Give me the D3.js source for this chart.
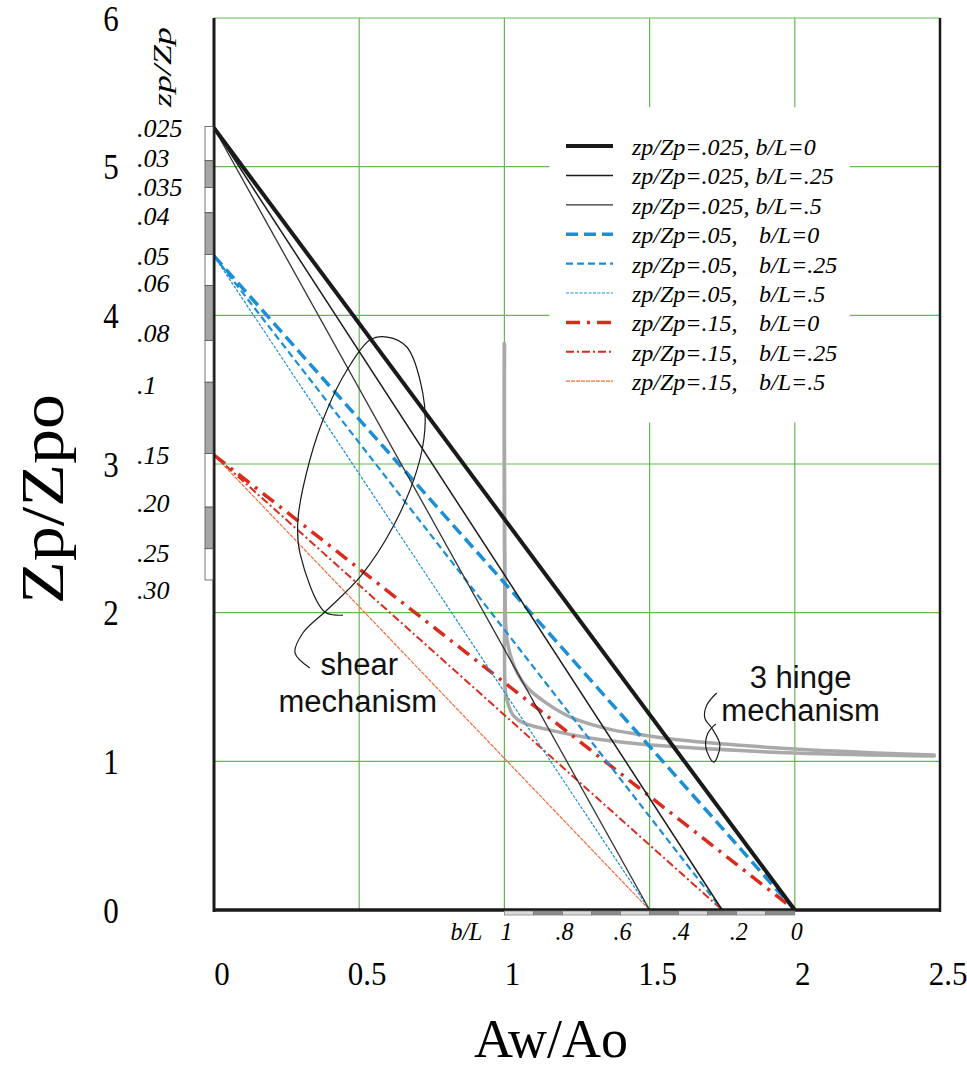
<!DOCTYPE html>
<html>
<head>
<meta charset="utf-8">
<script src="https://cdn.jsdelivr.net/npm/d3@7/dist/d3.min.js"></script>
<style>
  body { margin: 0; background: #fff; }
  svg { display: block; }
</style>
</head>
<body>
<div id="chart"></div>
<script>
// ---- data ----
var xTicks = [0, 0.5, 1, 1.5, 2, 2.5];
var xTickLabels = ["0", "0.5", "1", "1.5", "2", "2.5"];
var yTicks = [0, 1, 2, 3, 4, 5, 6];

// intercept on the Zp/Zpo axis for each zp/Zp level
var zpLevels = [".025", ".05", ".15"];
var zpIntercepts = [5.26, 4.40, 3.06];
// b/L values and where the lines reach Zp/Zpo = 0
var bLevels = ["0", ".25", ".5"];
var bEnds = [2.0, 1.75, 1.5];

// 3 hinge mechanism curves
var hingeUpper = [[1.0, 3.81], [1.002, 2.2], [1.009, 1.82], [1.036, 1.63], [1.077, 1.50], [1.146, 1.39],
                  [1.236, 1.29], [1.353, 1.22], [1.466, 1.18], [1.604, 1.143], [2.0, 1.083], [2.48, 1.042]];
var hingeLower = [[1.0, 3.81], [1.001, 2.2], [1.003, 1.48], [1.009, 1.41], [1.03, 1.31], [1.064, 1.26],
                  [1.157, 1.21], [1.294, 1.157], [1.466, 1.116], [1.604, 1.096], [2.0, 1.056], [2.48, 1.036]];

// zp/Zp scale on the left (Zp/Zpo positions of the band edges and labels)
var zpBandEdges = [5.27, 5.04, 4.86, 4.69, 4.41, 4.20, 3.83, 3.55, 3.07, 2.71, 2.43, 2.22];
var zpBandLabels = [".025", ".03", ".035", ".04", ".05", ".06", ".08", ".1", ".15", ".20", ".25", ".30"];
var zpLabelPos = [5.26, 5.06, 4.86, 4.67, 4.40, 4.22, 3.88, 3.53, 3.06, 2.74, 2.40, 2.15];

// b/L scale under the x axis
var bLEdges = [1, 0.9, 0.8, 0.7, 0.6, 0.5, 0.4, 0.3, 0.2, 0.1, 0];
var bLTicks = [1, 0.8, 0.6, 0.4, 0.2, 0];
var bLTickLabels = ["1", ".8", ".6", ".4", ".2", "0"];

// hand drawn annotation loops (data units)
var shearLoop = [[0.444, 1.984], [0.382, 2.004], [0.296, 2.401], [0.289, 2.623], [0.330, 3.027], [0.389, 3.363],
                 [0.458, 3.632], [0.537, 3.834], [0.596, 3.854], [0.664, 3.787], [0.719, 3.477], [0.726, 3.229],
                 [0.699, 2.960], [0.616, 2.576], [0.503, 2.240], [0.389, 2.018], [0.306, 1.863], [0.279, 1.729],
                 [0.330, 1.628]];
var hingeLoop = [[1.731, 1.460], [1.697, 1.379], [1.690, 1.291], [1.714, 1.224], [1.742, 1.110], [1.721, 0.995],
                 [1.694, 1.090], [1.701, 1.191], [1.728, 1.251]];

// ---- styles ----
var blue = "#1a8fd8", red = "#d92b1e", orange = "#f36c3b", green = "#62bb4c", gray = "#a9a9a9";
var serif = "'Liberation Serif', 'Times New Roman', serif";
var sans = "'Liberation Sans', Arial, sans-serif";

var series = [
    { zp: 0, b: 0, color: "#1a1a1a", w: 4,   dash: null },
    { zp: 0, b: 1, color: "#1a1a1a", w: 1.5, dash: null },
    { zp: 0, b: 2, color: "#333333", w: 1.3, dash: null },
    { zp: 1, b: 0, color: blue,      w: 3.5, dash: "12,6" },
    { zp: 1, b: 1, color: blue,      w: 2.2, dash: "7,4" },
    { zp: 1, b: 2, color: blue,      w: 1.2, dash: "3,1.5" },
    { zp: 2, b: 0, color: red,       w: 3.5, dash: "14,7,3,7" },
    { zp: 2, b: 1, color: red,       w: 2,   dash: "8,3,2,3" },
    { zp: 2, b: 2, color: orange,    w: 1.2, dash: "4,1" }
];

var width = 967, height = 1071;
var margin = { top: 18, right: 27, bottom: 161, left: 214 };

var svg = d3.select("#chart").append("svg")
    .attr("width", width)
    .attr("height", height);

svg.append("rect").attr("width", width).attr("height", height).attr("fill", "#fff");

var x = d3.scaleLinear().domain([0, 2.5]).range([margin.left, width - margin.right]);
var y = d3.scaleLinear().domain([0, 6]).range([height - margin.bottom, margin.top]);
// b/L runs backwards along Aw/Ao from 1 to 2
var bx = d3.scaleLinear().domain([1, 0]).range([x(1), x(2)]);

// (slightly) stretched serif text like the original figure
function tallText(sel, tx, ty, str, size, k, anchor, italic) {
    return sel.append("text")
        .attr("transform", "translate(" + tx + "," + ty + ") scale(1," + k + ")")
        .attr("y", size * 0.33)
        .style("font-family", serif)
        .style("font-size", size + "px")
        .style("font-style", italic ? "italic" : "normal")
        .style("text-anchor", anchor || "middle")
        .text(str);
}

// grid
svg.selectAll(".hgrid")
    .data(yTicks.filter(function(d) { return d > 0; }))
    .enter().append("line")
    .attr("class", "hgrid")
    .attr("x1", x(0)).attr("x2", x(2.5))
    .attr("y1", function(d) { return y(d); })
    .attr("y2", function(d) { return y(d); })
    .attr("stroke", green).attr("stroke-width", 1.2);

svg.selectAll(".vgrid")
    .data(xTicks.filter(function(d) { return d > 0 && d < 2.5; }))
    .enter().append("line")
    .attr("class", "vgrid")
    .attr("x1", function(d) { return x(d); })
    .attr("x2", function(d) { return x(d); })
    .attr("y1", y(6)).attr("y2", y(0))
    .attr("stroke", green).attr("stroke-width", 1.2);

// legend background hides the grid
var legendBox = { x0: 1.155, x1: 2.19, y0: 5.4, y1: 3.28 };
svg.append("rect")
    .attr("x", x(legendBox.x0)).attr("y", y(legendBox.y0))
    .attr("width", x(legendBox.x1) - x(legendBox.x0))
    .attr("height", y(legendBox.y1) - y(legendBox.y0))
    .attr("fill", "#fff");

// 3 hinge curves
var curve = d3.line()
    .x(function(d) { return x(d[0]); })
    .y(function(d) { return y(d[1]); })
    .curve(d3.curveCatmullRom.alpha(0.5));

[hingeLower, hingeUpper].forEach(function(c) {
    svg.append("path")
        .attr("d", curve(c))
        .attr("fill", "none")
        .attr("stroke", gray)
        .attr("stroke-width", 3.5)
        .attr("stroke-linecap", "round");
});

// straight mechanism lines
var straight = d3.line()
    .x(function(d) { return x(d[0]); })
    .y(function(d) { return y(d[1]); });

series.slice().reverse().forEach(function(s) {
    var pts = [[0, zpIntercepts[s.zp]], [bEnds[s.b], 0]];
    svg.append("path")
        .attr("d", straight(pts))
        .attr("fill", "none")
        .attr("stroke", s.color)
        .attr("stroke-width", s.w)
        .attr("stroke-dasharray", s.dash);
});

// frame
svg.append("line").attr("x1", x(0)).attr("x2", x(0)).attr("y1", y(6)).attr("y2", y(0) + 2)
    .attr("stroke", "#1a1a1a").attr("stroke-width", 3);
svg.append("line").attr("x1", x(2.5)).attr("x2", x(2.5)).attr("y1", y(6)).attr("y2", y(0) + 2)
    .attr("stroke", "#1a1a1a").attr("stroke-width", 2.5);
svg.append("line").attr("x1", x(0)).attr("x2", x(2.5) + 1).attr("y1", y(0)).attr("y2", y(0))
    .attr("stroke", "#1a1a1a").attr("stroke-width", 3.5);

// zp/Zp band scale on the left axis
var bands = d3.range(zpBandEdges.length - 1);
svg.selectAll(".zpband")
    .data(bands)
    .enter().append("rect")
    .attr("class", "zpband")
    .attr("x", x(0) - 9)
    .attr("width", 8)
    .attr("y", function(i) { return y(zpBandEdges[i]); })
    .attr("height", function(i) { return y(zpBandEdges[i + 1]) - y(zpBandEdges[i]); })
    .attr("fill", function(i) { return i % 2 ? "#a6a6a6" : "#fff"; })
    .attr("stroke", "#555").attr("stroke-width", 0.8);

zpBandLabels.forEach(function(lab, i) {
    svg.append("text")
        .attr("x", 137)
        .attr("y", y(zpLabelPos[i]) + 9)
        .style("font-family", serif)
        .style("font-style", "italic")
        .style("font-size", "26px")
        .text(lab);
});

svg.append("text")
    .attr("transform", "translate(171," + 67 + ") rotate(-90) scale(1.38,1)")
    .style("font-family", serif)
    .style("font-style", "italic")
    .style("font-size", "26px")
    .style("text-anchor", "middle")
    .text("zp/Zp");

// b/L band scale under the x axis
var bBands = d3.range(bLEdges.length - 1);
svg.selectAll(".bband")
    .data(bBands)
    .enter().append("rect")
    .attr("class", "bband")
    .attr("x", function(i) { return bx(bLEdges[i]); })
    .attr("width", function(i) { return bx(bLEdges[i + 1]) - bx(bLEdges[i]); })
    .attr("y", y(0) + 1)
    .attr("height", 4)
    .attr("fill", function(i) { return i % 2 ? "#8c8c8c" : "#dadada"; })
    .attr("stroke", "#777").attr("stroke-width", 0.7);

bLTicks.forEach(function(v, i) {
    tallText(svg, bx(v) + 2, 931, bLTickLabels[i], 24, 1.08, "middle", true);
});
tallText(svg, x(1) - 38, 931, "b/L", 24, 1.08, "middle", true);

// axis tick labels
yTicks.forEach(function(v) {
    tallText(svg, 111, y(v) + 1, String(v), 31, 1.15, "middle", false);
});
xTicks.forEach(function(v, i) {
    tallText(svg, x(v) + 8, 974, xTickLabels[i], 31, 1.12, "middle", false);
});

// axis titles
tallText(svg, 551, 1039, "Aw/Ao", 54, 1.03, "middle", false);
svg.append("text")
    .attr("transform", "translate(63,499) rotate(-90) scale(1.13,1)")
    .style("font-family", serif)
    .style("font-size", "62px")
    .style("text-anchor", "middle")
    .text("Zp/Zpo");

// annotations
var loopLine = d3.line()
    .x(function(d) { return x(d[0]); })
    .y(function(d) { return y(d[1]); })
    .curve(d3.curveCatmullRom.alpha(0.5));

[shearLoop, hingeLoop].forEach(function(c) {
    svg.append("path")
        .attr("d", loopLine(c))
        .attr("fill", "none")
        .attr("stroke", "#1a1a1a")
        .attr("stroke-width", 1.2);
});

var notes = [
    { t: "shear", cx: 0.5, cy: 1.58 },
    { t: "mechanism", cx: 0.495, cy: 1.33 },
    { t: "3 hinge", cx: 2.02, cy: 1.49 },
    { t: "mechanism", cx: 2.02, cy: 1.27 }
];
notes.forEach(function(n) {
    svg.append("text")
        .attr("x", x(n.cx))
        .attr("y", y(n.cy))
        .style("font-family", sans)
        .style("font-size", "31px")
        .style("text-anchor", "middle")
        .style("fill", "#111")
        .text(n.t);
});

// legend
var legendTop = 146, legendStep = 29.4;
series.forEach(function(s, i) {
    var ly = legendTop + i * legendStep;
    svg.append("line")
        .attr("x1", 566).attr("x2", 613)
        .attr("y1", ly).attr("y2", ly)
        .attr("stroke", s.color)
        .attr("stroke-width", s.w)
        .attr("stroke-dasharray", s.dash);
    var txt = svg.append("text")
        .attr("y", ly + 9)
        .style("font-family", serif)
        .style("font-style", "italic")
        .style("font-size", "24px");
    if (s.zp == 0) {
        txt.attr("x", 632).text("zp/Zp=" + zpLevels[s.zp] + ", b/L=" + bLevels[s.b]);
    } else {
        txt.attr("x", 632).text("zp/Zp=" + zpLevels[s.zp] + ",");
        svg.append("text")
            .attr("x", 759)
            .attr("y", ly + 9)
            .style("font-family", serif)
            .style("font-style", "italic")
            .style("font-size", "24px")
            .text("b/L=" + bLevels[s.b]);
    }
});
</script>
</body>
</html>
